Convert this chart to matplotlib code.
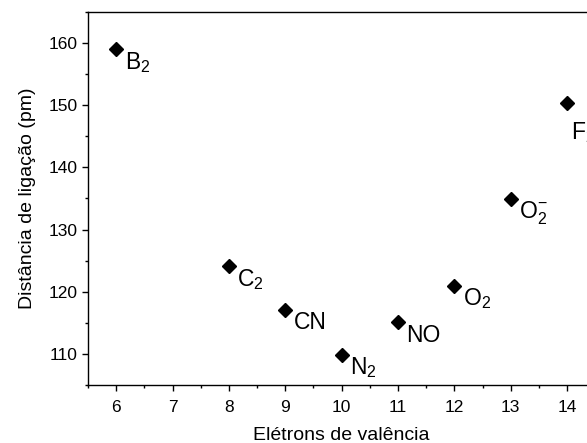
import matplotlib
matplotlib.use('Agg')
import matplotlib.pyplot as plt
from matplotlib.ticker import MultipleLocator

plt.rcParams['font.family'] = ['Liberation Sans', 'DejaVu Sans']
plt.rcParams['mathtext.fontset'] = 'custom'
plt.rcParams['mathtext.rm'] = 'Liberation Sans'

# data
electrons = [6, 8, 9, 10, 11, 12, 13, 14]
distance = [159.0, 124.1, 117.1, 109.8, 115.1, 120.9, 134.9, 150.4]
names = [r'B$_2$', r'C$_2$', 'CN', r'N$_2$', 'NO', r'O$_2$', r'O$_2^{-}$', r'F$_2$']
# label offsets in points (dx, dy)
offsets = [(6, -14), (6, -14), (6, -14), (6, -14), (6, -14), (6, -14), (6, -14), (3, -26)]

fig = plt.figure(figsize=(5.87, 4.43), dpi=100)
ax = fig.add_axes([0.150, 0.131, 0.864, 0.842])

ax.plot(electrons, distance, 'D', color='black', markersize=7.5, linestyle='none')
for x, y, t, (dx, dy) in zip(electrons, distance, names, offsets):
  ax.annotate(t, (x, y), xytext=(dx, dy), textcoords='offset points',
              fontsize=16.5, ha='left', va='baseline', annotation_clip=False)

ax.set_xlim(5.5, 14.5)
ax.set_ylim(105, 165)
ax.xaxis.set_major_locator(MultipleLocator(1))
ax.xaxis.set_minor_locator(MultipleLocator(0.5))
ax.yaxis.set_major_locator(MultipleLocator(10))
ax.yaxis.set_minor_locator(MultipleLocator(5))
ax.tick_params(which='major', direction='out', length=4.5, width=1, labelsize=12.5, pad=3)
ax.tick_params(axis='x', which='major', pad=6)
ax.tick_params(which='minor', direction='out', length=2.5, width=1)
for s in ax.spines.values():
  s.set_linewidth(1)

ax.set_xlabel('Elétrons de valência', fontsize=14, labelpad=9)
ax.set_ylabel('Distância de ligação (pm)', fontsize=14, labelpad=9)

fig.savefig('out.png', dpi=100)
